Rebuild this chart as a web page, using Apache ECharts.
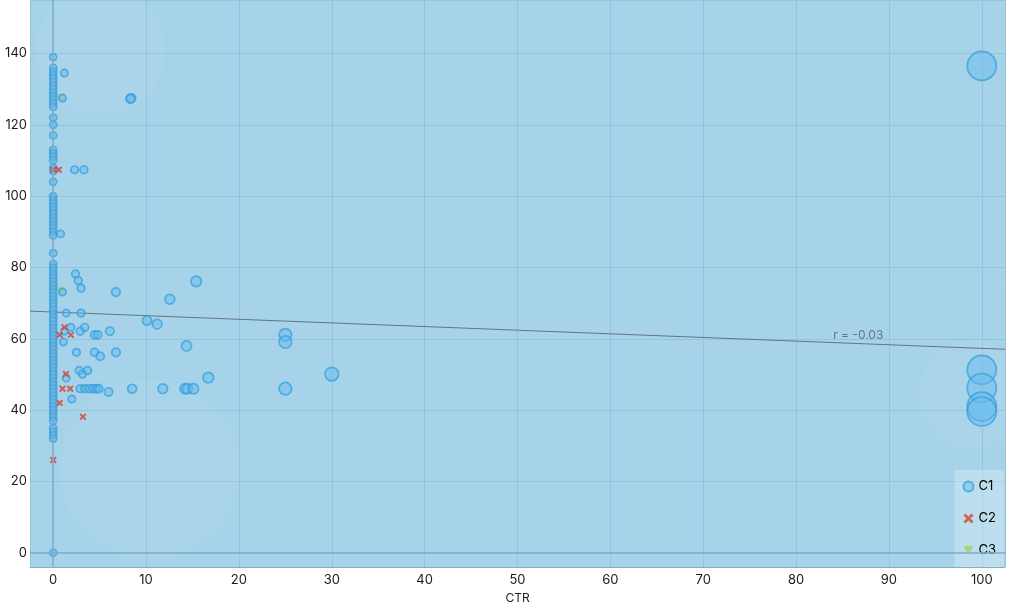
<!DOCTYPE html>
<html>
<head>
<meta charset="utf-8">
<script src="https://cdn.jsdelivr.net/npm/echarts@6/dist/echarts.min.js"></script>
<style>
  html, body { margin: 0; padding: 0; background: #fff; }
  #chart { width: 1024px; height: 603px; }
</style>
</head>
<body>
<div id="chart"></div>
<script>
// C1 points sitting on CTR = 0
const c1ZeroY = [139, 136, 135, 134, 133, 132, 131, 130, 129, 128, 127, 126, 125, 122, 120, 117,
  113, 112, 111, 110, 108, 107, 104, 100, 99, 98, 97, 96, 95, 94, 93, 92, 91, 90, 89, 84, 81, 80,
  79, 78, 77, 76, 75, 74, 73, 72, 71, 70, 69, 68, 67, 66, 65, 64, 63, 62, 61, 60, 59, 58, 57, 56,
  55, 54, 53, 52, 51, 50, 49, 48, 47, 46, 45, 44, 43, 42, 41, 40, 39, 38, 37, 35, 34, 33, 32, 0]
// other C1 points [CTR, y]
const c1Other = [
  [1.2, 134.5], [1.0, 127.5], [8.4, 127.5], [8.3, 127.3], [2.3, 107.4], [3.3, 107.4],
  [0.8, 89.4], [2.4, 78.2], [2.7, 76.3], [3.0, 74.2], [1.0, 73.1], [6.75, 73.1],
  [1.4, 67.2], [3.0, 67.2], [1.9, 63.2], [3.4, 63.2], [2.9, 62.1], [1.2, 62.1],
  [4.45, 61.1], [4.8, 61.1], [6.1, 62.1], [1.1, 59.1], [2.5, 56.2], [4.45, 56.2],
  [5.06, 55.1], [6.75, 56.2], [1.4, 49], [2.8, 51.1], [3.16, 50.1], [3.7, 51.1],
  [2.9, 46], [3.4, 46], [3.9, 46], [4.3, 46], [4.6, 46], [4.9, 46], [5.95, 45.1],
  [8.5, 46], [2.0, 43.1], [12.56, 71.1], [15.4, 76.1], [10.1, 65.1], [11.2, 64.1],
  [14.35, 58.0], [25.0, 61.1], [25.0, 59.1], [25.0, 46.0], [30.0, 50.1], [16.7, 49.1],
  [11.8, 46], [14.2, 46], [14.45, 46], [15.1, 46],
  [100, 136.5], [100, 51.3], [100, 46.2], [100, 41.0], [100, 39.6]
]
const c2Data = [
  [0, 107.4], [0.6, 107.4], [1.2, 63.2], [0.7, 61.1], [1.9, 61.1], [1.37, 50.1],
  [1.0, 46.0], [1.83, 46.0], [0.7, 42.0], [3.2, 38.1], [0, 26.0]
]
const c3Data = [[0.7, 127.5], [0.75, 73.3], [3.4, 46.0]]
// faint glow spots in the background
const glowData = [[5.1, 141], [10.4, 23.3], [99.2, 44.3]]
const glowSize = [130, 180, 110]
// least squares fit shown on the chart
const fitIntercept = 67.5
const fitSlope = -0.102
const fitLabel = 'r = -0.03'
const fitLabelX = 86.7

const xMin = -2.5
const xMax = 102.5
const yMin = -4
const yMax = 155

const c1Data = c1ZeroY.map(y => [0, y]).concat(c1Other)
const crossPath = 'path://M2,0 L5,3 L8,0 L10,2 L7,5 L10,8 L8,10 L5,7 L2,10 L0,8 L3,5 L0,2 Z'
const triPath = 'path://M0,0 L10,0 L5,9 Z'
const fitAt = x => fitIntercept + fitSlope * x

const myChart = echarts.init(document.getElementById('chart'))
const option = {
  animation: false,
  textStyle: { fontFamily: 'Inter, Roboto, sans-serif' },
  grid: {
    left: 30,
    right: 19,
    top: 0,
    bottom: 36,
    containLabel: false,
    outerBoundsMode: 'none',
    show: true,
    backgroundColor: '#a6d3e9',
    borderWidth: 0
  },
  legend: {
    orient: 'vertical',
    right: 20,
    bottom: 36,
    padding: [10, 8, 10, 8],
    itemGap: 19,
    itemWidth: 10,
    itemHeight: 10,
    backgroundColor: 'rgba(255,255,255,0.25)',
    textStyle: { color: '#000', fontSize: 13 },
    data: [
      { name: 'C1', icon: 'circle' },
      { name: 'C2', icon: crossPath },
      { name: 'C3', icon: triPath }
    ]
  },
  xAxis: {
    type: 'value',
    min: xMin,
    max: xMax,
    splitNumber: 10,
    name: 'CTR',
    nameLocation: 'middle',
    nameGap: 25,
    nameTextStyle: { color: '#222', fontSize: 12 },
    axisLine: { onZero: false, lineStyle: { color: '#86adc2' } },
    axisTick: { show: false },
    axisLabel: { color: '#1a1a1a', fontSize: 13, margin: 7, showMinLabel: false, showMaxLabel: false },
    splitLine: { lineStyle: { color: '#94c3dc' } }
  },
  yAxis: {
    type: 'value',
    min: yMin,
    max: yMax,
    splitNumber: 8,
    axisLine: { show: true, onZero: false, lineStyle: { color: '#95c2da' } },
    axisTick: { show: false },
    axisLabel: { color: '#1a1a1a', fontSize: 13, margin: 3, showMinLabel: false, showMaxLabel: false },
    splitLine: { lineStyle: { color: '#94c3dc' } }
  },
  series: [
    {
      name: 'glow',
      type: 'scatter',
      data: glowData,
      symbolSize: function (v, p) {
        return glowSize[p.dataIndex]
      },
      silent: true,
      itemStyle: { color: 'rgba(255,255,255,0.05)' },
      z: 0
    },
    {
      name: 'fit',
      type: 'line',
      data: [[xMin, fitAt(xMin)], [xMax, fitAt(xMax)]],
      symbol: 'none',
      silent: true,
      lineStyle: { color: '#64757e', width: 1 },
      z: 1,
      markLine: {
        silent: true,
        symbol: 'none',
        label: { show: false },
        lineStyle: { color: '#7eaecb', width: 1.5, type: 'solid' },
        data: [{ xAxis: 0 }, { yAxis: 0 }]
      }
    },
    {
      name: 'fitLabel',
      type: 'scatter',
      data: [[fitLabelX, fitAt(fitLabelX)]],
      symbolSize: 0,
      silent: true,
      label: {
        show: true,
        position: 'top',
        distance: 2,
        formatter: fitLabel,
        color: '#555e63',
        fontSize: 12
      }
    },
    {
      name: 'C1',
      type: 'scatter',
      data: c1Data,
      symbol: 'circle',
      symbolSize: function (v) {
        return 7 + v[0] * 0.22
      },
      itemStyle: {
        color: 'rgba(100,185,238,0.6)',
        borderColor: 'rgba(50,158,220,0.9)',
        borderWidth: 1.7
      },
      z: 3
    },
    {
      name: 'C2',
      type: 'scatter',
      data: c2Data,
      symbol: crossPath,
      symbolSize: 7,
      itemStyle: { color: '#d8412f' },
      z: 4
    },
    {
      name: 'C3',
      type: 'scatter',
      data: c3Data,
      symbol: triPath,
      symbolSize: [9, 8],
      itemStyle: { color: '#a3d45a' },
      z: 2
    }
  ]
}
myChart.setOption(option)
</script>
</body>
</html>
